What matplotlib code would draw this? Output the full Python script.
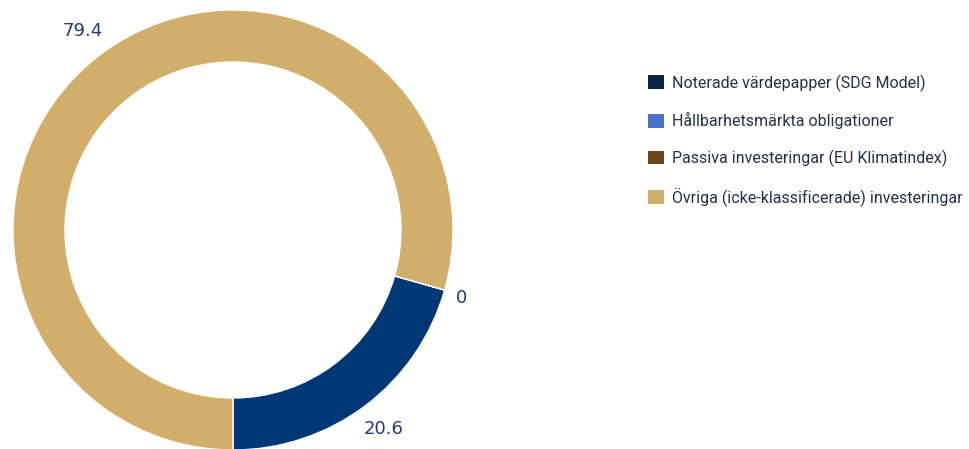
import numpy as np
import matplotlib
matplotlib.use("Agg")
from matplotlib import pyplot as plt
from matplotlib.patches import Patch

# andelar i procent
kategorier = ["Noterade värdepapper (SDG Model)",
              "Hållbarhetsmärkta obligationer",
              "Passiva investeringar (EU Klimatindex)",
              "Övriga (icke-klassificerade) investeringar"]
varden = [20.6, 0, 0, 79.4]
etiketter = ["20.6", "0", "", "79.4"]

faerger_ring = ["#003776", "#4a72c4", "#6b4520", "#d1ae6a"]
faerger_legend = ["#0c2444", "#4a72c4", "#6b4520", "#d1ae6a"]

fig = plt.figure(figsize=(9.7, 4.49), dpi=100)
ax = fig.add_axes([0, 0, 1, 1])

cx, cy, R = 233, 219, 220   # mitt och radie i pixel
ax.pie(varden, colors=faerger_ring, startangle=-90, counterclock=True,
       center=(cx, cy), radius=R,
       wedgeprops=dict(width=52, edgecolor="white", linewidth=1))

# etiketter utanför ringen
vinklar = -90 + np.cumsum([0] + varden[:-1]) * 3.6 + np.array(varden) * 1.8
for v, txt in zip(vinklar, etiketter):
    if txt == "":
        continue
    r = 250
    x = cx + r * np.cos(np.radians(v))
    y = cy + r * np.sin(np.radians(v))
    if np.cos(np.radians(v)) > 0.9:
        x -= 12
    ax.text(x, y, txt, ha="center", va="center", fontsize=13, color="#1c3d7a",
            family="DejaVu Sans")

ax.set_xlim(0, 970)
ax.set_ylim(0, 449)
ax.set_aspect("equal")
ax.axis("off")

handles = [Patch(facecolor=c, edgecolor="none") for c in faerger_legend]
leg = fig.legend(handles, kategorier, loc="upper left",
                 bbox_to_anchor=(642 / 970, 1 - 68 / 449),
                 frameon=False, handlelength=0.95, handleheight=0.95,
                 handletextpad=0.5, labelspacing=1.28, borderaxespad=0,
                 prop={"family": "Roboto", "size": 11.5})
for t in leg.get_texts():
    t.set_color("#1f3050")

fig.savefig("out.png", dpi=100)
